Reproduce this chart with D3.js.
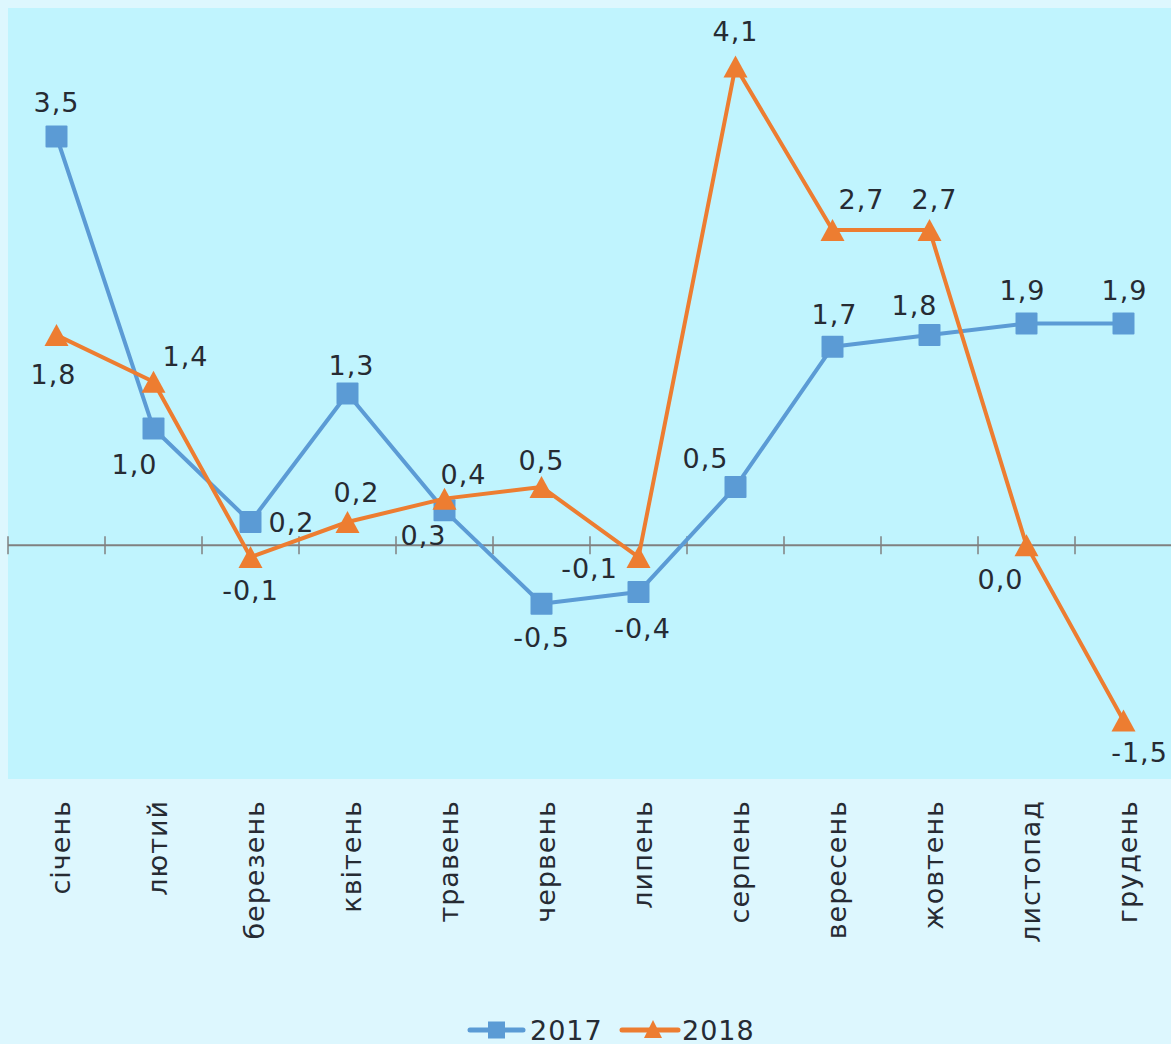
<!DOCTYPE html>
<html>
<head>
<meta charset="utf-8">
<script src="https://cdn.jsdelivr.net/npm/d3@7"></script>
<style>
  html, body { margin: 0; padding: 0; background: #ddf7fe; }
  svg { display: block; }
  text { font-family: "DejaVu Sans", Verdana, sans-serif; fill: #262b33; letter-spacing: 1px; }
</style>
</head>
<body>
<svg id="chart" width="1171" height="1044"></svg>
<script>
// ---- data ----
const categories = ["січень", "лютий", "березень", "квітень", "травень", "червень",
                    "липень", "серпень", "вересень", "жовтень", "листопад", "грудень"];
const series2017 = [3.5, 1.0, 0.2, 1.3, 0.3, -0.5, -0.4, 0.5, 1.7, 1.8, 1.9, 1.9];
const series2018 = [1.8, 1.4, -0.1, 0.2, 0.4, 0.5, -0.1, 4.1, 2.7, 2.7, 0.0, -1.5];
const seriesNames = ["2017", "2018"];

// label offsets (styling: relative placement of value labels, px)
const labelOffsets2017 = [[0,-34],[-19,36],[41,0],[4,-28],[-21,25],[0,34],[4,36],[-30,-28],[2,-32],[-15,-30],[-4,-33],[1,-33]];
const labelOffsets2018 = [[-3,39],[32,-25],[0,33],[9,-30],[19,-24],[0,-26],[-49,11],[0,-35],[29,-30],[5,-30],[-26,34],[16,32]];

const W = 1171, H = 1044;
const plot = { left: 8, right: 1172, top: 8, bottom: 779 };
const colors = { s2017: "#5b9bd5", s2018: "#ed7d31" };
const FS = 27;

const svg = d3.select("#chart");
svg.append("rect").attr("width", W).attr("height", H).attr("fill", "#ddf7fe");
svg.append("rect")
  .attr("x", plot.left).attr("y", plot.top)
  .attr("width", W - plot.left).attr("height", plot.bottom - plot.top)
  .attr("fill", "#c0f4fe");

const x = d3.scaleBand().domain(categories).range([plot.left, plot.right]).padding(0);
const y = d3.scaleLinear().domain([-2, 4.6]).range([plot.bottom, plot.top]);
const cx = c => x(c) + x.bandwidth() / 2;

// zero axis with ticks between categories
const axisG = svg.append("g").attr("transform", `translate(0,${y(0)})`);
axisG.append("line").attr("x1", plot.left).attr("x2", W).attr("y1", 0).attr("y2", 0)
  .attr("stroke", "#808080").attr("stroke-width", 2);
const tickPos = categories.map(c => x(c)).concat([plot.right]);
axisG.selectAll("line.tick").data(tickPos).enter().append("line")
  .attr("class", "tick")
  .attr("x1", d => d).attr("x2", d => d).attr("y1", -9).attr("y2", 9)
  .attr("stroke", "#808080").attr("stroke-width", 1.5);

// category labels (rotated)
svg.selectAll("text.cat").data(categories).enter().append("text")
  .attr("class", "cat")
  .attr("transform", d => `translate(${cx(d) + 13},${800}) rotate(-90)`)
  .attr("text-anchor", "end")
  .attr("font-size", FS)
  .text(d => d);

const line = d3.line().x((d, i) => cx(categories[i])).y(d => y(d));
const fmt = v => v.toFixed(1).replace(".", ",");

function drawSeries(values, color, marker) {
  const g = svg.append("g");
  g.append("path").datum(values).attr("d", line)
    .attr("fill", "none").attr("stroke", color).attr("stroke-width", 4)
    .attr("stroke-linejoin", "round");
  values.forEach((v, i) => {
    const px = cx(categories[i]), py = y(v);
    if (marker === "square") {
      g.append("rect").attr("x", px - 11).attr("y", py - 11).attr("width", 22).attr("height", 22)
        .attr("fill", color).attr("rx", 1);
    } else {
      g.append("path")
        .attr("d", `M${px},${py - 11} L${px + 12},${py + 11} L${px - 12},${py + 11} Z`)
        .attr("fill", color);
    }
  });
  return g;
}

drawSeries(series2017, colors.s2017, "square");
drawSeries(series2018, colors.s2018, "triangle");

function drawLabels(values, offsets) {
  svg.append("g").selectAll("text").data(values).enter().append("text")
    .attr("x", (d, i) => cx(categories[i]) + offsets[i][0])
    .attr("y", (d, i) => y(d) + offsets[i][1])
    .attr("text-anchor", "middle")
    .attr("dominant-baseline", "central")
    .attr("font-size", FS)
    .text(d => fmt(d));
}
drawLabels(series2017, labelOffsets2017);
drawLabels(series2018, labelOffsets2018);

// legend
const leg = svg.append("g").attr("transform", "translate(0,1030)");
const l1 = leg.append("g").attr("transform", "translate(470,0)");
l1.append("line").attr("x1", 0).attr("x2", 53).attr("stroke", colors.s2017).attr("stroke-width", 5).attr("stroke-linecap", "round");
l1.append("rect").attr("x", 18).attr("y", -8.5).attr("width", 17).attr("height", 17).attr("fill", colors.s2017);
l1.append("text").attr("x", 60).attr("y", 9.5).attr("font-size", FS).text(seriesNames[0]);
const l2 = leg.append("g").attr("transform", "translate(622,0)");
l2.append("line").attr("x1", 0).attr("x2", 56).attr("stroke", colors.s2018).attr("stroke-width", 5).attr("stroke-linecap", "round");
l2.append("path").attr("d", "M31,-10 L40,8 L22,8 Z").attr("fill", colors.s2018);
l2.append("text").attr("x", 60).attr("y", 9.5).attr("font-size", FS).text(seriesNames[1]);
</script>
</body>
</html>
